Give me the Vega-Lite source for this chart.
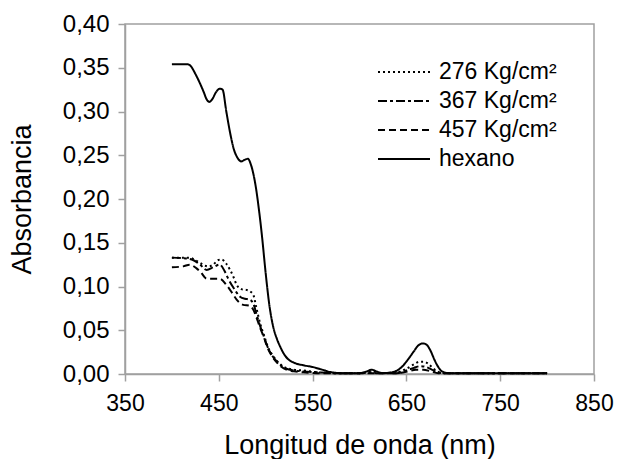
{
  "$schema": "https://vega.github.io/schema/vega-lite/v6.json",
  "autosize": {"type": "none"},
  "padding": {"left": 125, "top": 24, "right": 23, "bottom": 85},
  "width": 469,
  "height": 350,
  "background": "white",
  "config": {
    "font": "Liberation Sans",
    "view": {"stroke": "#a0a0a0", "strokeWidth": 1.5},
    "axis": {"grid": false, "domainColor": "#a0a0a0", "tickColor": "#a0a0a0", "domainWidth": 1.5, "tickWidth": 1.5, "labelColor": "black", "titleColor": "black", "labelFont": "Liberation Sans", "titleFont": "Liberation Sans", "titleFontWeight": "normal"},
    "legend": {"title": null, "orient": "none", "legendX": 252, "legendY": 36, "symbolType": "stroke", "symbolSize": 2700, "symbolStrokeColor": "black", "labelFontSize": 23, "labelFont": "Liberation Sans", "labelColor": "black", "rowPadding": 5, "clipHeight": 24, "labelOffset": 8}
  },
  "data": {"values": [
    {"s": "hexano", "x": 400, "y": 0.354}, {"s": "hexano", "x": 410, "y": 0.354}, {"s": "hexano", "x": 417, "y": 0.354}, {"s": "hexano", "x": 420, "y": 0.352}, {"s": "hexano", "x": 425, "y": 0.343}, {"s": "hexano", "x": 430, "y": 0.332}, {"s": "hexano", "x": 434, "y": 0.322}, {"s": "hexano", "x": 437, "y": 0.314}, {"s": "hexano", "x": 440, "y": 0.311}, {"s": "hexano", "x": 443, "y": 0.314}, {"s": "hexano", "x": 447, "y": 0.322}, {"s": "hexano", "x": 451, "y": 0.326}, {"s": "hexano", "x": 454, "y": 0.325}, {"s": "hexano", "x": 458, "y": 0.300}, {"s": "hexano", "x": 462, "y": 0.276}, {"s": "hexano", "x": 466, "y": 0.257}, {"s": "hexano", "x": 470, "y": 0.247}, {"s": "hexano", "x": 474, "y": 0.243}, {"s": "hexano", "x": 478, "y": 0.245}, {"s": "hexano", "x": 481, "y": 0.246}, {"s": "hexano", "x": 484, "y": 0.240}, {"s": "hexano", "x": 487, "y": 0.228}, {"s": "hexano", "x": 490, "y": 0.210}, {"s": "hexano", "x": 493, "y": 0.186}, {"s": "hexano", "x": 496, "y": 0.158}, {"s": "hexano", "x": 500, "y": 0.115}, {"s": "hexano", "x": 504, "y": 0.078}, {"s": "hexano", "x": 508, "y": 0.054}, {"s": "hexano", "x": 512, "y": 0.040}, {"s": "hexano", "x": 516, "y": 0.030}, {"s": "hexano", "x": 520, "y": 0.022}, {"s": "hexano", "x": 525, "y": 0.016}, {"s": "hexano", "x": 530, "y": 0.013}, {"s": "hexano", "x": 540, "y": 0.010}, {"s": "hexano", "x": 550, "y": 0.008}, {"s": "hexano", "x": 560, "y": 0.005}, {"s": "hexano", "x": 570, "y": 0.002}, {"s": "hexano", "x": 580, "y": 0.001}, {"s": "hexano", "x": 600, "y": 0.001}, {"s": "hexano", "x": 608, "y": 0.003}, {"s": "hexano", "x": 613, "y": 0.005}, {"s": "hexano", "x": 618, "y": 0.003}, {"s": "hexano", "x": 625, "y": 0.001}, {"s": "hexano", "x": 635, "y": 0.002}, {"s": "hexano", "x": 645, "y": 0.008}, {"s": "hexano", "x": 652, "y": 0.017}, {"s": "hexano", "x": 658, "y": 0.026}, {"s": "hexano", "x": 663, "y": 0.033}, {"s": "hexano", "x": 668, "y": 0.035}, {"s": "hexano", "x": 672, "y": 0.033}, {"s": "hexano", "x": 676, "y": 0.026}, {"s": "hexano", "x": 680, "y": 0.016}, {"s": "hexano", "x": 684, "y": 0.008}, {"s": "hexano", "x": 688, "y": 0.003}, {"s": "hexano", "x": 695, "y": 0.001}, {"s": "hexano", "x": 750, "y": 0.001}, {"s": "hexano", "x": 800, "y": 0.001},

    {"s": "276 Kg/cm²", "x": 400, "y": 0.133}, {"s": "276 Kg/cm²", "x": 419, "y": 0.133}, {"s": "276 Kg/cm²", "x": 425, "y": 0.130}, {"s": "276 Kg/cm²", "x": 430, "y": 0.127}, {"s": "276 Kg/cm²", "x": 435, "y": 0.124}, {"s": "276 Kg/cm²", "x": 439, "y": 0.123}, {"s": "276 Kg/cm²", "x": 444, "y": 0.125}, {"s": "276 Kg/cm²", "x": 449, "y": 0.130}, {"s": "276 Kg/cm²", "x": 453, "y": 0.131}, {"s": "276 Kg/cm²", "x": 458, "y": 0.126}, {"s": "276 Kg/cm²", "x": 462, "y": 0.119}, {"s": "276 Kg/cm²", "x": 466, "y": 0.110}, {"s": "276 Kg/cm²", "x": 469, "y": 0.102}, {"s": "276 Kg/cm²", "x": 474, "y": 0.097}, {"s": "276 Kg/cm²", "x": 480, "y": 0.096}, {"s": "276 Kg/cm²", "x": 484, "y": 0.094}, {"s": "276 Kg/cm²", "x": 487, "y": 0.090}, {"s": "276 Kg/cm²", "x": 490, "y": 0.076}, {"s": "276 Kg/cm²", "x": 494, "y": 0.058}, {"s": "276 Kg/cm²", "x": 498, "y": 0.045}, {"s": "276 Kg/cm²", "x": 502, "y": 0.032}, {"s": "276 Kg/cm²", "x": 507, "y": 0.022}, {"s": "276 Kg/cm²", "x": 512, "y": 0.015}, {"s": "276 Kg/cm²", "x": 517, "y": 0.010}, {"s": "276 Kg/cm²", "x": 522, "y": 0.007}, {"s": "276 Kg/cm²", "x": 530, "y": 0.005}, {"s": "276 Kg/cm²", "x": 540, "y": 0.004}, {"s": "276 Kg/cm²", "x": 555, "y": 0.002}, {"s": "276 Kg/cm²", "x": 570, "y": 0.001}, {"s": "276 Kg/cm²", "x": 600, "y": 0.001}, {"s": "276 Kg/cm²", "x": 608, "y": 0.002}, {"s": "276 Kg/cm²", "x": 613, "y": 0.003}, {"s": "276 Kg/cm²", "x": 618, "y": 0.002}, {"s": "276 Kg/cm²", "x": 625, "y": 0.001}, {"s": "276 Kg/cm²", "x": 640, "y": 0.002}, {"s": "276 Kg/cm²", "x": 650, "y": 0.006}, {"s": "276 Kg/cm²", "x": 658, "y": 0.011}, {"s": "276 Kg/cm²", "x": 664, "y": 0.014}, {"s": "276 Kg/cm²", "x": 668, "y": 0.014}, {"s": "276 Kg/cm²", "x": 673, "y": 0.012}, {"s": "276 Kg/cm²", "x": 678, "y": 0.007}, {"s": "276 Kg/cm²", "x": 683, "y": 0.003}, {"s": "276 Kg/cm²", "x": 690, "y": 0.001}, {"s": "276 Kg/cm²", "x": 750, "y": 0.001}, {"s": "276 Kg/cm²", "x": 800, "y": 0.001},

    {"s": "367 Kg/cm²", "x": 400, "y": 0.133}, {"s": "367 Kg/cm²", "x": 415, "y": 0.132}, {"s": "367 Kg/cm²", "x": 423, "y": 0.130}, {"s": "367 Kg/cm²", "x": 430, "y": 0.125}, {"s": "367 Kg/cm²", "x": 437, "y": 0.119}, {"s": "367 Kg/cm²", "x": 444, "y": 0.122}, {"s": "367 Kg/cm²", "x": 451, "y": 0.125}, {"s": "367 Kg/cm²", "x": 456, "y": 0.118}, {"s": "367 Kg/cm²", "x": 460, "y": 0.109}, {"s": "367 Kg/cm²", "x": 466, "y": 0.098}, {"s": "367 Kg/cm²", "x": 473, "y": 0.088}, {"s": "367 Kg/cm²", "x": 478, "y": 0.086}, {"s": "367 Kg/cm²", "x": 483, "y": 0.085}, {"s": "367 Kg/cm²", "x": 487, "y": 0.080}, {"s": "367 Kg/cm²", "x": 490, "y": 0.069}, {"s": "367 Kg/cm²", "x": 494, "y": 0.055}, {"s": "367 Kg/cm²", "x": 498, "y": 0.043}, {"s": "367 Kg/cm²", "x": 502, "y": 0.031}, {"s": "367 Kg/cm²", "x": 507, "y": 0.021}, {"s": "367 Kg/cm²", "x": 512, "y": 0.014}, {"s": "367 Kg/cm²", "x": 517, "y": 0.009}, {"s": "367 Kg/cm²", "x": 522, "y": 0.006}, {"s": "367 Kg/cm²", "x": 530, "y": 0.004}, {"s": "367 Kg/cm²", "x": 540, "y": 0.003}, {"s": "367 Kg/cm²", "x": 555, "y": 0.002}, {"s": "367 Kg/cm²", "x": 570, "y": 0.001}, {"s": "367 Kg/cm²", "x": 600, "y": 0.001}, {"s": "367 Kg/cm²", "x": 610, "y": 0.002}, {"s": "367 Kg/cm²", "x": 618, "y": 0.001}, {"s": "367 Kg/cm²", "x": 640, "y": 0.001}, {"s": "367 Kg/cm²", "x": 650, "y": 0.004}, {"s": "367 Kg/cm²", "x": 658, "y": 0.007}, {"s": "367 Kg/cm²", "x": 665, "y": 0.009}, {"s": "367 Kg/cm²", "x": 671, "y": 0.008}, {"s": "367 Kg/cm²", "x": 677, "y": 0.005}, {"s": "367 Kg/cm²", "x": 683, "y": 0.002}, {"s": "367 Kg/cm²", "x": 690, "y": 0.001}, {"s": "367 Kg/cm²", "x": 750, "y": 0.001}, {"s": "367 Kg/cm²", "x": 800, "y": 0.001},

    {"s": "457 Kg/cm²", "x": 400, "y": 0.122}, {"s": "457 Kg/cm²", "x": 412, "y": 0.123}, {"s": "457 Kg/cm²", "x": 419, "y": 0.125}, {"s": "457 Kg/cm²", "x": 426, "y": 0.121}, {"s": "457 Kg/cm²", "x": 431, "y": 0.116}, {"s": "457 Kg/cm²", "x": 437, "y": 0.109}, {"s": "457 Kg/cm²", "x": 444, "y": 0.109}, {"s": "457 Kg/cm²", "x": 451, "y": 0.109}, {"s": "457 Kg/cm²", "x": 458, "y": 0.102}, {"s": "457 Kg/cm²", "x": 464, "y": 0.093}, {"s": "457 Kg/cm²", "x": 469, "y": 0.085}, {"s": "457 Kg/cm²", "x": 476, "y": 0.079}, {"s": "457 Kg/cm²", "x": 483, "y": 0.078}, {"s": "457 Kg/cm²", "x": 487, "y": 0.073}, {"s": "457 Kg/cm²", "x": 490, "y": 0.065}, {"s": "457 Kg/cm²", "x": 494, "y": 0.053}, {"s": "457 Kg/cm²", "x": 498, "y": 0.042}, {"s": "457 Kg/cm²", "x": 502, "y": 0.030}, {"s": "457 Kg/cm²", "x": 507, "y": 0.020}, {"s": "457 Kg/cm²", "x": 512, "y": 0.013}, {"s": "457 Kg/cm²", "x": 517, "y": 0.008}, {"s": "457 Kg/cm²", "x": 522, "y": 0.005}, {"s": "457 Kg/cm²", "x": 530, "y": 0.003}, {"s": "457 Kg/cm²", "x": 540, "y": 0.002}, {"s": "457 Kg/cm²", "x": 555, "y": 0.001}, {"s": "457 Kg/cm²", "x": 600, "y": 0.001}, {"s": "457 Kg/cm²", "x": 640, "y": 0.001}, {"s": "457 Kg/cm²", "x": 652, "y": 0.003}, {"s": "457 Kg/cm²", "x": 660, "y": 0.005}, {"s": "457 Kg/cm²", "x": 668, "y": 0.005}, {"s": "457 Kg/cm²", "x": 676, "y": 0.003}, {"s": "457 Kg/cm²", "x": 684, "y": 0.001}, {"s": "457 Kg/cm²", "x": 750, "y": 0.001}, {"s": "457 Kg/cm²", "x": 800, "y": 0.001}
  ]},
  "mark": {"type": "line", "color": "black", "interpolate": "monotone"},
  "encoding": {
    "x": {"field": "x", "type": "quantitative", "scale": {"domain": [350, 850], "nice": false},
      "axis": {"title": "Longitud de onda (nm)", "values": [350, 450, 550, 650, 750, 850], "tickSize": 7, "labelFontSize": 23, "titleFontSize": 27, "labelPadding": 11, "titlePadding": 17, "labelFlush": false}},
    "y": {"field": "y", "type": "quantitative", "scale": {"domain": [0, 0.4], "nice": false},
      "axis": {"title": "Absorbancia", "values": [0, 0.05, 0.1, 0.15, 0.2, 0.25, 0.3, 0.35, 0.4], "tickSize": 7, "labelFontSize": 24, "titleFontSize": 27, "labelPadding": 9, "titlePadding": 26, "labelExpr": "replace(format(datum.value, '.2f'), '.', ',')"}},
    "strokeDash": {"field": "s", "type": "nominal",
      "scale": {"domain": ["276 Kg/cm²", "367 Kg/cm²", "457 Kg/cm²", "hexano"], "range": [[2, 3], [9, 3, 3, 3], [7, 4], [1, 0]]}},
    "strokeWidth": {"field": "s", "type": "nominal",
      "scale": {"domain": ["276 Kg/cm²", "367 Kg/cm²", "457 Kg/cm²", "hexano"], "range": [2, 2, 2.6, 3.2]}}
  }
}
